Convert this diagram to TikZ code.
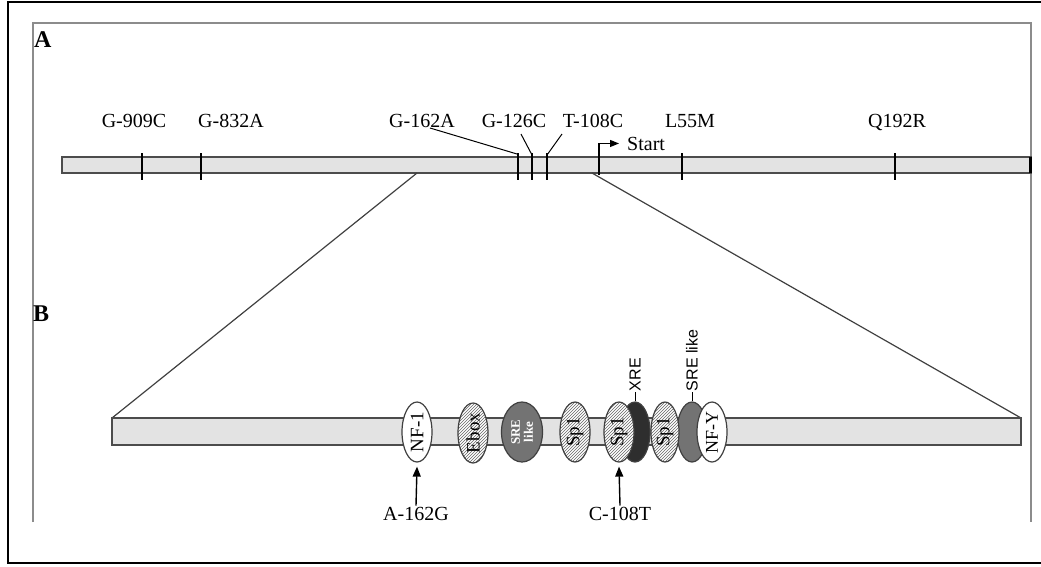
\documentclass[tikz,border=0pt]{standalone}
\usepackage{fontspec}
\setmainfont{Liberation Serif}
\setsansfont{Liberation Sans}
\usetikzlibrary{shapes.geometric,patterns,arrows.meta}
\tikzset{
    snp/.style={font=\fontsize{20}{22}\selectfont, inner sep=1pt, anchor=base},
    panel/.style={font=\bfseries\fontsize{24}{25}\selectfont, inner sep=0pt, anchor=base west},
    gene/.style={draw=black!70, fill=black!11, line width=1.2pt},
    site/.style={ellipse, draw=black!75, line width=1.2pt, rotate=90,
        minimum width=60pt, minimum height=30pt, inner sep=0pt,
        font=\fontsize{19}{19}\selectfont},
    hatched/.style={site, preaction={fill=white}, pattern=north east lines, pattern color=black!60},
    open/.style={site, fill=white},
    srebox/.style={site, fill=black!55, text=white, align=center, font=\bfseries\fontsize{13}{13}\selectfont},
    xrebox/.style={site, fill=black!82},
    sitelabel/.style={font=\sffamily\fontsize{16}{17}\selectfont, rotate=90, anchor=west, inner sep=1pt}
}
\begin{document}
\begin{tikzpicture}[x=1pt,y=-1pt]
  \useasboundingbox (0,0) rectangle (1041,566);
  % Draw frames
  \draw[line width=1.3pt] (1041,2) -- (8,2) -- (8,563) -- (1041,563);
  \draw[black!45,line width=2pt] (33,522) -- (33,23) -- (1031,23) -- (1031,522);
  \node (pa) [panel] at (34,47) {A};
  \node (pb) [panel] at (33,321) {B};
  % Draw gene
  \draw[gene] (62,157) rectangle (1031,173);
  \draw[line width=3pt] (1030,157) -- (1030,173);
  \draw[line width=2.8pt] (142,153) -- (142,180);
  \draw[line width=2pt]   (201,153) -- (201,180);
  \draw[line width=2.8pt] (518,153) -- (518,180);
  \draw[line width=2.2pt] (532,153) -- (532,180);
  \draw[line width=2.8pt] (547,153) -- (547,180);
  \draw[line width=2.8pt] (682,153) -- (682,180);
  \draw[line width=2.8pt] (895,153) -- (895,180);
  % Draw SNP labels
  \node (g909) [snp] at (134,127) {G-909C};
  \node (g832) [snp] at (231,127) {G-832A};
  \node (g162) [snp] at (422,127) {G-162A};
  \node (g126) [snp] at (514,127) {G-126C};
  \node (t108) [snp] at (593,127) {T-108C};
  \node (l55m) [snp] at (690,127) {L55M};
  \node (q192) [snp] at (897,127) {Q192R};
  \coordinate (l162) at (430,128);
  \coordinate (k162) at (517,154);
  \coordinate (l126) at (521,134);
  \coordinate (k126) at (532,155);
  \coordinate (l108) at (562,134);
  \coordinate (k108) at (547,155);
  \draw[line width=1pt] (l162) -- (k162);
  \draw[line width=1pt] (l126) -- (k126);
  \draw[line width=1pt] (l108) -- (k108);
  % Draw start
  \node (start) [snp,anchor=base west] at (626,150) {Start};
  \coordinate (tss) at (599,175);
  \draw[line width=1.2pt,-{Triangle[length=9pt,width=7pt]},shorten >=7pt] (tss) |- (start.west);
  % Draw promoter
  \coordinate (zl) at (417,173);
  \coordinate (zr) at (592,173);
  \coordinate (bl) at (112,418);
  \coordinate (br) at (1021,418);
  \draw[black!75,line width=1.2pt] (zl) -- (bl);
  \draw[black!75,line width=1.2pt] (zr) -- (br);
  \draw[gene] (112,418) rectangle (1021,445);
  % Draw binding sites
  \node (nf1)  [open]    at (417,432) {NF-1};
  \node (ebox) [hatched] at (473,433) {Ebox};
  \node (sre1) [srebox,minimum height=41pt] at (522,432) {SRE\\like};
  \node (sp1a) [hatched] at (575,432) {Sp1};
  \node (xre)  [xrebox]  at (635,432) {};
  \node (sp1b) [hatched] at (619,432) {Sp1};
  \node (sre2) [srebox]  at (692,432) {};
  \node (sp1c) [hatched,minimum height=28pt] at (665,432) {Sp1};
  \node (nfy)  [open,font=\fontsize{18}{18}\selectfont] at (712,432) {NF-Y};
  % \Draw site labels
  \node (xrelbl) [sitelabel] at ([yshift=9pt]xre.east) {XRE};
  \node (srelbl) [sitelabel] at ([yshift=9pt]sre2.east) {SRE like};
  \draw[line width=1pt] (xre.east) -- (xrelbl.west);
  \draw[line width=1pt] (sre2.east) -- (srelbl.west);
  % \Draw promoter variants
  \node (a162) [snp] at (416,520) {A-162G};
  \node (c108) [snp] at (620,520) {C-108T};
  \draw[line width=1.4pt,-{Triangle[length=10pt,width=8pt]}] (a162.north) -- ([yshift=-4pt]nf1.west);
  \draw[line width=1.4pt,-{Triangle[length=10pt,width=8pt]}] (c108.north) -- ([yshift=-4pt]sp1b.west);
\end{tikzpicture}
\end{document}
